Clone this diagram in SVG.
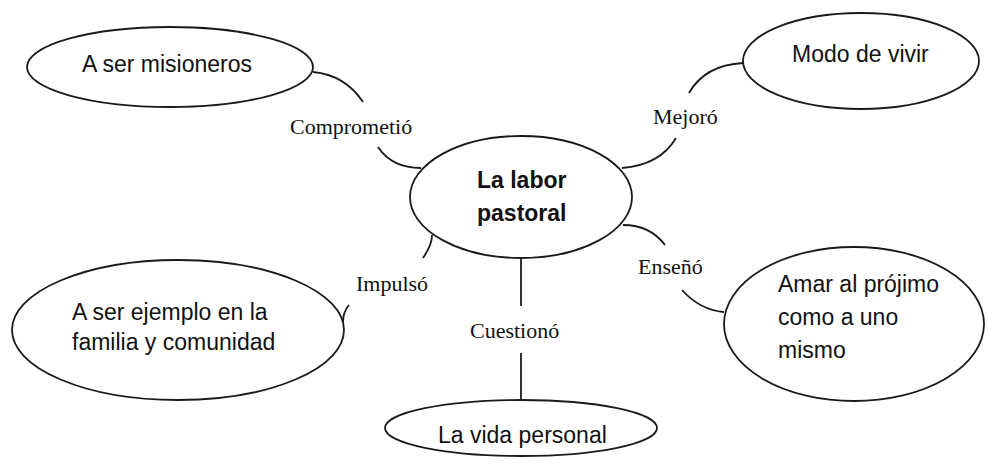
<svg xmlns="http://www.w3.org/2000/svg" width="987" height="469" viewBox="0 0 987 469">
<style>
.n{fill:#fff;stroke:#1a1a1a;stroke-width:1.8}
.t{font-family:"Liberation Sans",Arial,sans-serif;font-size:23px;fill:#111}
.b{font-weight:bold}
.l{font-family:"Liberation Serif","Times New Roman",serif;font-size:22px;fill:#111}
.c{fill:none;stroke:#1a1a1a;stroke-width:1.8}
</style>
<rect width="987" height="469" fill="#fff"/>
<g id="connectors">
<path class="c" d="M313,72 Q345,75 363,102"/>
<path class="c" d="M378,147 Q392,168 421,168"/>
<path class="c" d="M689,93 Q705,65 743,63"/>
<path class="c" d="M676,138 Q660,165 622,168"/>
<path class="c" d="M423,258 Q432,245 432,235"/>
<path class="c" d="M349,305 Q343,312 343,322"/>
<path class="c" d="M623,225 Q650,225 665,245"/>
<path class="c" d="M682,290 Q700,310 724,312"/>
<path class="c" d="M521,259 V306"/>
<path class="c" d="M521,353 V400"/>
<text class="l" x="290" y="134">Comprometió</text>
<text class="l" x="653" y="124">Mejoró</text>
<text class="l" x="356" y="291">Impulsó</text>
<text class="l" x="638" y="274">Enseñó</text>
<text class="l" x="470" y="338">Cuestionó</text>
</g>
<g id="center">
<ellipse class="n" cx="521" cy="197" rx="111" ry="61"/>
<text class="t b" x="477" y="188">La labor</text>
<text class="t b" x="477" y="221">pastoral</text>
</g>
<g id="misioneros">
<ellipse class="n" cx="170" cy="67" rx="143" ry="40"/>
<text class="t" x="82" y="72">A ser misioneros</text>
</g>
<g id="modo">
<ellipse class="n" cx="861" cy="61" rx="118" ry="48"/>
<text class="t" x="792" y="62">Modo de vivir</text>
</g>
<g id="ejemplo">
<ellipse class="n" cx="178" cy="330" rx="166" ry="70"/>
<text class="t" x="72" y="320">A ser ejemplo en la</text>
<text class="t" x="72" y="350">familia y comunidad</text>
</g>
<g id="amar">
<ellipse class="n" cx="854" cy="324" rx="130" ry="77"/>
<text class="t" x="778" y="292">Amar al prójimo</text>
<text class="t" x="778" y="325">como a uno</text>
<text class="t" x="778" y="358">mismo</text>
</g>
<g id="vida">
<ellipse class="n" cx="521" cy="428" rx="136" ry="28"/>
<text class="t" x="438" y="443">La vida personal</text>
</g>
</svg>
